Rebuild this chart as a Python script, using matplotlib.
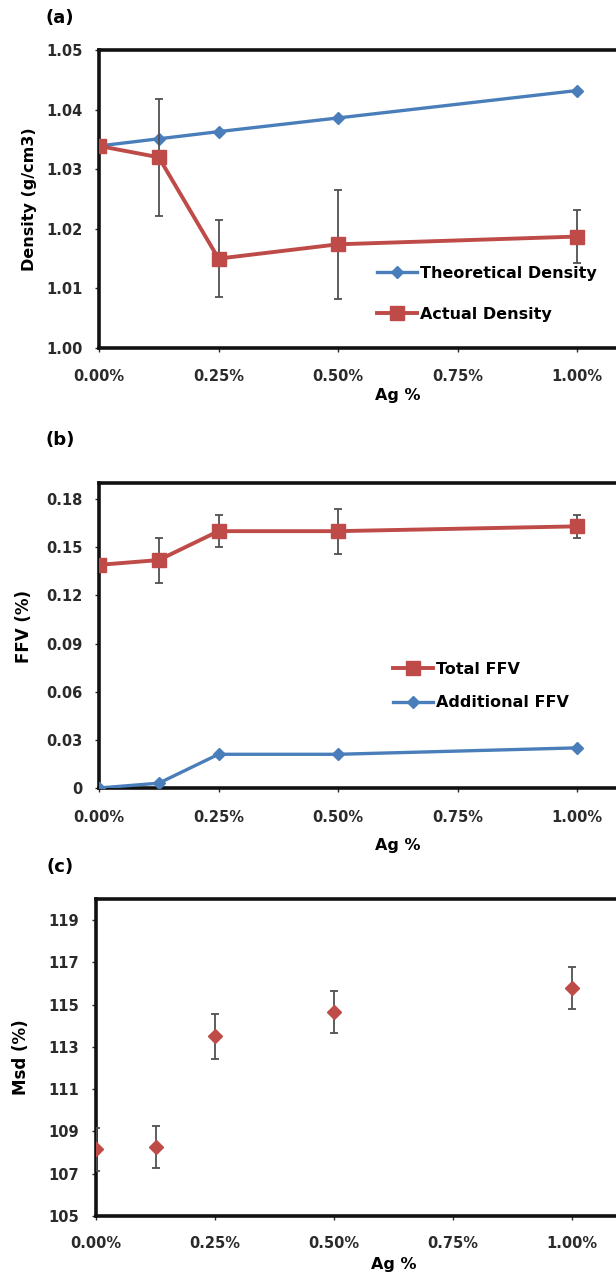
import matplotlib.pyplot as plt
from matplotlib.ticker import FuncFormatter

plt.rcParams['font.family'] = ['DejaVu Sans']
plt.rcParams['font.weight'] = 'bold'

# Ag content (%)
ag = [0.0, 0.125, 0.25, 0.5, 1.0]

# (a) density, g/cm3
theoretical_density = [1.0339, 1.0351, 1.0363, 1.0386, 1.0432]
actual_density = [1.0339, 1.0320, 1.0150, 1.0174, 1.0187]
actual_density_err = [0.0, 0.0098, 0.0065, 0.0091, 0.0045]

# (b) fractional free volume
total_ffv = [0.139, 0.142, 0.160, 0.160, 0.163]
total_ffv_err = [0.0, 0.014, 0.010, 0.014, 0.007]
additional_ffv = [0.0, 0.003, 0.021, 0.021, 0.025]

# (c) Msd
msd = [108.15, 108.25, 113.5, 114.65, 115.8]
msd_err = [1.0, 1.0, 1.05, 1.0, 1.0]

blue = '#4a7ebb'
red = '#be4b48'
errc = '#505050'

W, H = 616, 1277
fig = plt.figure(figsize=(W / 100, H / 100), dpi=100)


def make_axes(x0, y_top, y_bot, px_per_unit, xpad, xmax=1.25):
    width = xmax * px_per_unit
    ax = fig.add_axes([x0 / W, (H - y_bot) / H, width / W, (y_bot - y_top) / H])
    ax.set_xlim(0, xmax)
    ax.set_xticks([0, 0.25, 0.5, 0.75, 1.0])
    ax.xaxis.set_major_formatter(FuncFormatter(lambda v, p: f'{v:.2f}%'))
    for s in ['left', 'top', 'bottom', 'right']:
        ax.spines[s].set_linewidth(2.6)
        ax.spines[s].set_color('#111111')
    ax.tick_params(labelsize=10.5, length=3, width=1, colors='#2a2a2a')
    ax.tick_params(axis='x', pad=xpad)
    ax.tick_params(axis='y', pad=9)
    return ax


def add_legend(ax, handles, labels, x, y, spacing):
    ax.legend(handles, labels, loc='upper left', bbox_to_anchor=(x / W, 1 - y / H),
              bbox_transform=fig.transFigure, frameon=False, borderpad=0, borderaxespad=0,
              handlelength=2.5, handletextpad=0.2, labelspacing=spacing,
              prop={'weight': 'bold', 'size': 11.5})


# ---- (a) ----
ax1 = make_axes(99, 50, 348, 478, xpad=12)
ax1.set_ylim(1.00, 1.05)
ax1.set_yticks([1.00, 1.01, 1.02, 1.03, 1.04, 1.05])
ax1.yaxis.set_major_formatter(FuncFormatter(lambda v, p: f'{v:.2f}'))
l_theo, = ax1.plot(ag, theoretical_density, color=blue, lw=2.4, marker='D', ms=6, zorder=3)
eb = ax1.errorbar(ag, actual_density, yerr=actual_density_err, color=red, lw=2.8,
                  marker='s', ms=10, ecolor=errc, elinewidth=1.3, capsize=3, capthick=1.3, zorder=4)
add_legend(ax1, [l_theo, eb[0]], ['Theoretical Density', 'Actual Density'], 377, 266, 1.6)
ax1.set_ylabel('Density (g/cm3)', fontsize=11.5, fontweight='bold')
ax1.yaxis.set_label_coords((37 - 99) / 597.5, 0.5)
ax1.set_xlabel('Ag %', fontsize=11.5, fontweight='bold', labelpad=3)
fig.text(60 / W, 1 - 18 / H, '(a)', fontsize=13, fontweight='bold', ha='center', va='center')

# ---- (b) ----
ax2 = make_axes(99, 483, 788, 478, xpad=13)
ax2.set_ylim(0, 0.19)
ax2.set_yticks([0, 0.03, 0.06, 0.09, 0.12, 0.15, 0.18])
ax2.yaxis.set_major_formatter(FuncFormatter(lambda v, p: '0' if v == 0 else f'{v:.2f}'))
eb2 = ax2.errorbar(ag, total_ffv, yerr=total_ffv_err, color=red, lw=2.8,
                   marker='s', ms=10, ecolor=errc, elinewidth=1.3, capsize=3, capthick=1.3, zorder=4)
l_add, = ax2.plot(ag, additional_ffv, color=blue, lw=2.4, marker='D', ms=6, zorder=3)
add_legend(ax2, [eb2[0], l_add], ['Total FFV', 'Additional FFV'], 393, 662, 1.15)
ax2.set_ylabel('FFV (%)', fontsize=12, fontweight='bold')
ax2.yaxis.set_label_coords((33 - 99) / 597.5, 0.53)
ax2.set_xlabel('Ag %', fontsize=11.5, fontweight='bold', labelpad=9)
fig.text(60 / W, 1 - 440 / H, '(b)', fontsize=13, fontweight='bold', ha='center', va='center')

# ---- (c) ----
ax3 = make_axes(96, 899, 1216, 476, xpad=11.5)
ax3.set_ylim(105, 120)
ax3.set_yticks(range(105, 120, 2))
ax3.errorbar(ag, msd, yerr=msd_err, color=red, lw=0, marker='D', ms=7.5,
             ecolor=errc, elinewidth=1.3, capsize=3, capthick=1.3, zorder=4)
ax3.set_ylabel('Msd (%)', fontsize=12, fontweight='bold')
ax3.yaxis.set_label_coords((30 - 96) / 595, 0.5)
ax3.set_xlabel('Ag %', fontsize=11.5, fontweight='bold', labelpad=4)
fig.text(60 / W, 1 - 867 / H, '(c)', fontsize=13, fontweight='bold', ha='center', va='center')

fig.savefig('out.png', dpi=100)
